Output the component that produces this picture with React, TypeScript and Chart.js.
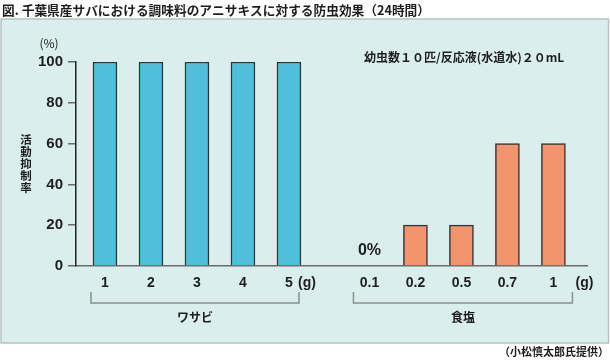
import React, { useEffect, useRef } from 'react';
import { Chart, registerables } from 'chart.js';

Chart.register(...registerables);

const TITLE = '図. 千葉県産サバにおける調味料のアニサキスに対する防虫効果（24時間）';
const NOTE = '幼虫数１０匹/反応液(水道水)２０mL';
const CREDIT = '（小松慎太郎氏提供）';
const Y_TITLE = '活動抑制率';
const Y_UNIT = '(%)';
const X_UNIT = '(g)';
const GROUP_NAMES = ['ワサビ', '食塩'];

const wasabiLabels = ['1', '2', '3', '4', '5'];
const wasabiValues = [100, 100, 100, 100, 100];
const saltLabels = ['0.1', '0.2', '0.5', '0.7', '1'];
const saltValues = [0, 20, 20, 60, 60];
const yTicks = [0, 20, 40, 60, 80, 100];
const GROUP_GAP = 1.75;

const wasabiPos = wasabiLabels.map((_, i) => i);
const saltPos = saltLabels.map((_, i) => wasabiLabels.length - 1 + GROUP_GAP + i);
const tickPos = [...wasabiPos, ...saltPos];
const tickLabels = [...wasabiLabels, ...saltLabels];

const JP = '"Noto Sans CJK JP", "Noto Sans", sans-serif';
const NUM = '"Liberation Sans", Arial, sans-serif';
const INK = '#1e1e1e';

const deco = {
  id: 'deco',
  beforeDraw(chart: any) {
    const ctx = chart.ctx;
    ctx.save();
    ctx.fillStyle = '#ffffff';
    ctx.fillRect(0, 0, chart.width, chart.height);
    ctx.fillStyle = '#daeeed';
    ctx.fillRect(1, 19, 608, 324);
    ctx.strokeStyle = '#b8c2c2';
    ctx.lineWidth = 1.5;
    ctx.strokeRect(1, 19, 607.5, 324);
    ctx.fillStyle = INK;
    ctx.textBaseline = 'middle';
    ctx.textAlign = 'left';
    ctx.font = `bold 12.7px ${JP}`;
    ctx.fillText(TITLE, 2, 10);
    ctx.textAlign = 'right';
    ctx.font = `bold 11px ${JP}`;
    ctx.fillText(CREDIT, 609, 352);
    ctx.restore();
  },
  afterDraw(chart: any) {
    const ctx = chart.ctx;
    const xs = chart.scales.x;
    const ys = chart.scales.y;
    ctx.save();
    ctx.fillStyle = INK;
    ctx.textBaseline = 'middle';
    // note
    ctx.textAlign = 'left';
    ctx.font = `bold 12px ${JP}`;
    ctx.fillText(NOTE, 364, 57);
    // unit
    ctx.textAlign = 'center';
    ctx.font = `12px ${JP}`;
    ctx.fillText(Y_UNIT, 49, 43);
    // y title vertical
    ctx.font = `bold 11.5px ${JP}`;
    const mid = (chart.chartArea.top + chart.chartArea.bottom) / 2;
    const chars = Array.from(Y_TITLE);
    chars.forEach((c, i) => {
      ctx.fillText(c, 26, mid + (i - (chars.length - 1) / 2) * 12);
    });
    // zero labels
    ctx.font = `bold 16px ${NUM}`;
    saltValues.forEach((v, i) => {
      if (v === 0) ctx.fillText('0%', xs.getPixelForValue(saltPos[i]), ys.getPixelForValue(0) - 15);
    });
    wasabiValues.forEach((v, i) => {
      if (v === 0) ctx.fillText('0%', xs.getPixelForValue(wasabiPos[i]), ys.getPixelForValue(0) - 15);
    });
    // (g)
    const tickY = 283;
    ctx.font = `bold 14px ${NUM}`;
    ctx.fillText(X_UNIT, xs.getPixelForValue(wasabiPos[wasabiPos.length - 1]) + 18, tickY);
    ctx.fillText(X_UNIT, xs.getPixelForValue(saltPos[saltPos.length - 1]) + 31, tickY);
    // brackets
    const groups = [
      { pos: wasabiPos, l: 14, r: 10 },
      { pos: saltPos, l: 16, r: 19 },
    ];
    ctx.strokeStyle = '#8a8f8f';
    ctx.lineWidth = 1.5;
    groups.forEach((g, gi) => {
      const x1 = xs.getPixelForValue(g.pos[0]) - g.l;
      const x2 = xs.getPixelForValue(g.pos[g.pos.length - 1]) + g.r;
      ctx.beginPath();
      ctx.moveTo(x1, 292);
      ctx.lineTo(x1, 303);
      ctx.lineTo(x2, 303);
      ctx.lineTo(x2, 292);
      ctx.stroke();
      ctx.font = `bold 12px ${JP}`;
      ctx.fillText(GROUP_NAMES[gi], (x1 + x2) / 2, 317);
    });
    ctx.restore();
  },
};

export default function App() {
  const ref = useRef<HTMLCanvasElement | null>(null);
  useEffect(() => {
    if (!ref.current) return;
    const chart = new Chart(ref.current, {
      type: 'bar',
      data: {
        datasets: [
          {
            data: wasabiPos.map((x, i) => ({ x, y: wasabiValues[i] })),
            backgroundColor: '#4fc0db',
            borderColor: '#333333',
            borderWidth: 1.5,
            barThickness: 24,
            grouped: false,
          } as any,
          {
            data: saltPos.map((x, i) => ({ x, y: saltValues[i] })),
            backgroundColor: '#f2956e',
            borderColor: '#333333',
            borderWidth: 1.5,
            barThickness: 24,
            grouped: false,
          } as any,
        ],
      },
      options: {
        responsive: false,
        animation: false,
        devicePixelRatio: 1,
        layout: { padding: { top: 62, right: 23, left: 0, bottom: 0 } },
        plugins: { legend: { display: false }, tooltip: { enabled: false } },
        scales: {
          x: {
            type: 'linear',
            offset: false,
            min: -0.63,
            max: 10.48,
            afterBuildTicks: (s: any) => {
              s.ticks = tickPos.map((v) => ({ value: v }));
            },
            afterFit: (s: any) => {
              s.height = 96;
            },
            ticks: {
              autoSkip: false,
              maxRotation: 0,
              padding: 9,
              color: INK,
              font: { family: NUM, size: 14, weight: 'bold' },
              callback: (v: any) => {
                const idx = tickPos.findIndex((p) => Math.abs(p - v) < 1e-6);
                return idx >= 0 ? tickLabels[idx] : '';
              },
            },
            grid: { display: false, drawTicks: false },
            border: { display: true, color: '#6b6b6b', width: 1.5 },
          },
          y: {
            min: 0,
            max: 100,
            afterBuildTicks: (s: any) => {
              s.ticks = yTicks.map((v) => ({ value: v }));
            },
            afterFit: (s: any) => {
              s.width = 76;
            },
            ticks: {
              padding: 5,
              color: INK,
              font: { family: NUM, size: 15, weight: 'bold' },
            },
            grid: {
              display: true,
              drawOnChartArea: false,
              drawTicks: true,
              tickLength: 8,
              color: '#6b6b6b',
              lineWidth: 1.5,
            },
            border: { display: true, color: '#222222', width: 1.5 },
          },
        },
      } as any,
      plugins: [deco],
    });
    return () => chart.destroy();
  }, []);
  return (
    <div style={{ position: 'absolute', left: 0, top: 0, width: 610, height: 362 }}>
      <canvas ref={ref} width={610} height={362} style={{ display: 'block' }} />
    </div>
  );
}
